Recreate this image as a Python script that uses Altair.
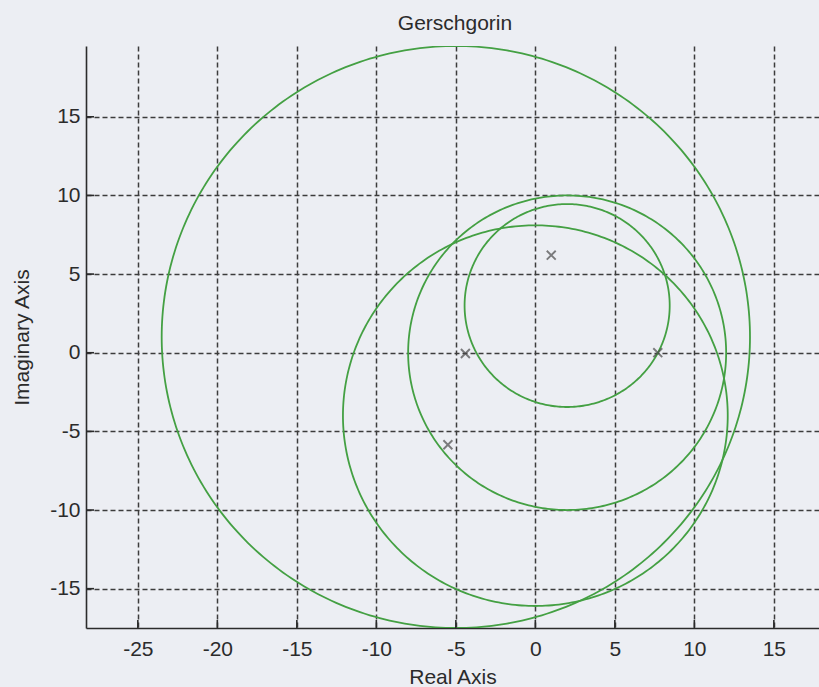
import altair as alt
import numpy as np
import pandas as pd

# Gerschgorin discs (centre real part, centre imaginary part, radius)
circle_cx = [-5.0, 2.0, 2.0, 0.0]
circle_cy = [1.0, 0.0, 3.0, -4.0]
circle_r = [18.5, 10.0, 6.45, 12.1]

# eigenvalues (marked with x)
eig_re = [1.0, -4.4, -5.5, 7.7]
eig_im = [6.2, -0.05, -5.85, 0.0]

x_ticks = [-25, -20, -15, -10, -5, 0, 5, 10, 15]
y_ticks = [-15, -10, -5, 0, 5, 10, 15]

FONT = "Liberation Sans"
TXT = "#2b2b2b"
W, H = 733, 582

theta = np.linspace(0, 2 * np.pi, 361)
rows = []
for i, (cx, cy, r) in enumerate(zip(circle_cx, circle_cy, circle_r)):
    for k, t in enumerate(theta):
        rows.append({"circle": i, "k": k, "re": cx + r * np.cos(t), "im": cy + r * np.sin(t)})
circles = pd.DataFrame(rows)
eigs = pd.DataFrame({"re": eig_re, "im": eig_im})
xt = pd.DataFrame({"v": x_ticks})
yt = pd.DataFrame({"v": y_ticks})

xscale = alt.Scale(domain=[-28.26, 17.84], nice=False, zero=False)
yscale = alt.Scale(domain=[-17.5, 19.5], nice=False, zero=False)

xaxis = alt.Axis(values=x_ticks, grid=True, gridDash=[5, 3], gridColor="#3c3c3c", gridWidth=1.5,
                 gridOpacity=1, domainColor=TXT, domainWidth=1.6, ticks=False,
                 labelFont=FONT, labelFontSize=21, labelColor=TXT, labelPadding=10,
                 labelExpr="'' + datum.value", title="Real Axis", titleFont=FONT,
                 titleFontSize=21, titleFontWeight="normal", titleColor=TXT,
                 titleY=55, titleBaseline="alphabetic")
yaxis = alt.Axis(values=y_ticks, grid=True, gridDash=[5, 3], gridColor="#3c3c3c", gridWidth=1.5,
                 gridOpacity=1, domainColor=TXT, domainWidth=1.6, ticks=False,
                 labelFont=FONT, labelFontSize=21, labelColor=TXT, labelPadding=6,
                 labelExpr="'' + datum.value", title="Imaginary Axis", titleFont=FONT,
                 titleFontSize=21, titleFontWeight="normal", titleColor=TXT,
                 titleX=-58, titleY=H / 2, titleAngle=270, titleBaseline="alphabetic")

circ = alt.Chart(circles).mark_line(clip=True, color="#44a043", strokeWidth=1.8).encode(
    x=alt.X("re:Q", scale=xscale, axis=xaxis),
    y=alt.Y("im:Q", scale=yscale, axis=yaxis),
    detail="circle:N",
    order="k:Q",
)

pts = alt.Chart(eigs).mark_point(shape="M-1,-1L1,1M-1,1L1,-1", size=80, filled=False,
                                 stroke="#4a4a4a", strokeWidth=1.9).encode(
    x=alt.X("re:Q", scale=xscale), y=alt.Y("im:Q", scale=yscale))

xtick_marks = alt.Chart(xt).mark_rule(color=TXT, strokeWidth=1.6).encode(
    x=alt.X("v:Q", scale=xscale), y=alt.value(H), y2=alt.value(H - 8))
ytick_marks = alt.Chart(yt).mark_rule(color=TXT, strokeWidth=1.6).encode(
    y=alt.Y("v:Q", scale=yscale), x=alt.value(0), x2=alt.value(8))

chart = alt.layer(circ, pts, xtick_marks, ytick_marks).properties(
    width=W, height=H,
    title=alt.TitleParams("Gerschgorin", font=FONT, fontSize=21, fontWeight="normal", color=TXT,
                          anchor="middle", dx=2.5, offset=-5, baseline="alphabetic"),
    autosize=alt.AutoSizeParams(type="none"),
    padding={"left": 86, "top": 46, "right": 0, "bottom": 59},
    background="#eceef3",
).configure_view(strokeWidth=0)

chart.save("out.html", embed_options={"renderer": "svg", "actions": False})
